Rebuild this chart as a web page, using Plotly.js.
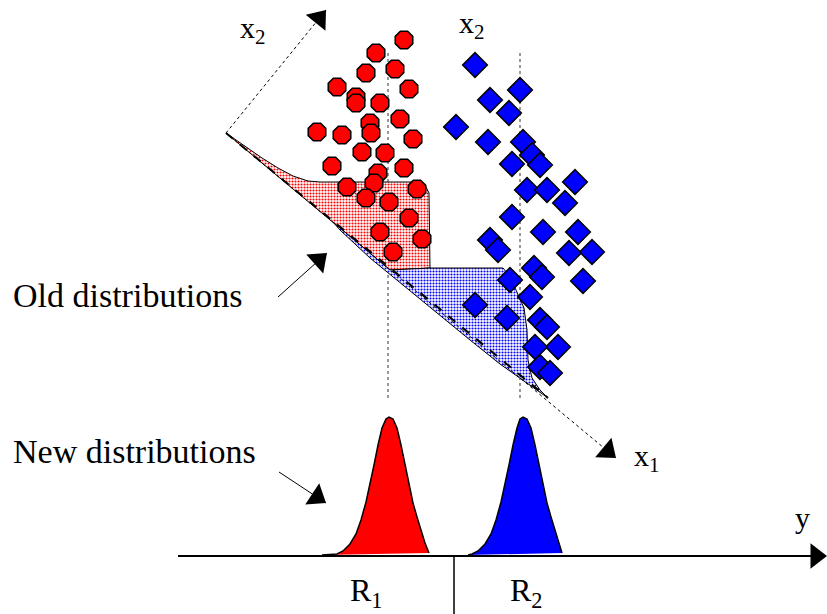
<!DOCTYPE html>
<html><head><meta charset="utf-8">
<script src="https://cdn.plot.ly/plotly-3.0.1.min.js"></script>
<style>html,body{margin:0;padding:0;background:#fff;}#chart{width:827px;height:614px;}</style>
</head><body><div id="chart"></div>
<script>
// Class 1 samples (red) in the x1/x2 plane, diagram units (y grows downward)
const redX = [404,376,395,366,337,409,356,356,380,400,370,371,317,342,413,362,385,332,404,378,347,374,417,366,389,409,380,422,393];
const redY = [40,53,69,73,87,89,97,103,103,119,123,133,132,135,139,152,153,166,168,173,187,183,189,198,202,218,232,239,252];
// Class 2 samples (blue)
const blueX = [475,520,490,509,456,488,523,532,540,512,575,527,547,565,512,543,578,490,498,569,592,534,542,583,510,530,475,507,540,547,558,535,540,550];
const blueY = [65,90,100,113,127,142,142,155,165,164,182,190,190,203,217,232,232,240,250,253,252,268,277,281,280,297,305,318,320,327,347,347,367,373];

// Old distributions, drawn against the x1 axis
const oldRedX = [226,245,262,278,293,308,320,418,425,429,430,390,226];
const oldRedY = [133,146,158,168,176,181,182,182,185,193,268,270,133];
const oldBlueX = [333,390,430,503,508,516,524,527,528,532,540,548,500,470,420,370,340,333];
const oldBlueY = [222,270,268,268,274,290,308,330,360,378,390,398,364,340,299,258,230,222];

// New distributions along the projected axis y
const newRedX = [322,337,343,350,356,361,366,370,374,378,382,386,389,393,397,401,405,409,413,417,421,425,429];
const newRedY = [555,554,551,544,534,520,502,485,465,445,428,419,417,419,428,445,465,485,503,517,530,543,553];
const newBlueX = [468,472,478,485,491,496,501,505,509,513,517,520,523,527,531,535,539,543,547,551,555,559,562];
const newBlueY = [555,554,551,544,534,520,502,485,465,445,428,419,417,419,428,445,465,485,503,517,530,543,553];

// Axes, pointers and guide lines: [fromX, fromY, toX, toY]
const x2Axis = [226,133,326,10];
const x1Axis = [226,133,616,458];
const baseLine = [226,133,548,398];
const yAxis = [178,556,827,556];
const oldPointer = [278,297,327,253];
const newPointer = [279,472,326,503];
const dividerX = 454;
const dividerSpan = [556,614];
const meanX = [388,520];
const meanSpan = [53,400];

const serif = 'Liberation Serif';
const headSize = 22;

function line(xs, ys, color, width, dash) {
  return {x: xs, y: ys, mode: 'lines', hoverinfo: 'skip',
          line: {color: color, width: width, dash: dash || 'solid'}};
}
function seg(s, color, width, dash) {
  return line([s[0], s[2]], [s[1], s[3]], color, width, dash);
}
// Filled triangle heads placed so their tip sits on the segment end
function heads(segs) {
  const xs = [], ys = [], ang = [];
  segs.forEach(s => {
    const dx = s[2] - s[0], dy = s[3] - s[1];
    const len = Math.hypot(dx, dy);
    const ux = dx / len, uy = dy / len;
    xs.push(s[2] - ux * headSize / 2);
    ys.push(s[3] - uy * headSize / 2);
    ang.push(Math.atan2(dx, -dy) * 180 / Math.PI);
  });
  return {x: xs, y: ys, mode: 'markers', hoverinfo: 'skip',
          marker: {symbol: 'triangle-up', size: headSize, angle: ang, color: '#000',
                   line: {width: 0}}};
}

const traces = [
  // mean guides
  line([meanX[0], meanX[0]], meanSpan, '#333', 1, 'dot'),
  line([meanX[1], meanX[1]], meanSpan, '#333', 1, 'dot'),
  // old distributions
  {x: oldRedX, y: oldRedY, mode: 'lines', fill: 'toself', hoverinfo: 'skip',
   fillcolor: 'rgba(255,0,0,0.35)',
   fillpattern: {shape: '.', fgcolor: '#ff0000', bgcolor: '#ffffff', size: 3, solidity: 0.4},
   line: {color: '#000', width: 1}},
  {x: oldBlueX, y: oldBlueY, mode: 'lines', fill: 'toself', hoverinfo: 'skip',
   fillcolor: 'rgba(0,0,255,0.35)',
   fillpattern: {shape: '.', fgcolor: '#0000ff', bgcolor: '#ffffff', size: 3, solidity: 0.4},
   line: {color: '#000', width: 1}},
  // x1 and x2 axes, pointers
  seg(x1Axis, '#000', 1, 'dot'),
  seg(x2Axis, '#000', 1, 'dot'),
  seg(baseLine, '#000', 2, 'dash'),
  seg(oldPointer, '#000', 1),
  seg(newPointer, '#000', 1),
  // samples
  {x: redX, y: redY, mode: 'markers', hoverinfo: 'skip',
   marker: {symbol: 'octagon', size: 19, color: '#ff0000', line: {color: '#000', width: 1.5}}},
  {x: blueX, y: blueY, mode: 'markers', hoverinfo: 'skip',
   marker: {symbol: 'diamond', size: 19, color: '#0000ff', line: {color: '#000', width: 1.5}}},
  // new distributions
  {x: newRedX, y: newRedY, mode: 'lines', fill: 'toself', fillcolor: '#ff0000', hoverinfo: 'skip',
   line: {color: '#000', width: 1.5}},
  {x: newBlueX, y: newBlueY, mode: 'lines', fill: 'toself', fillcolor: '#0000ff', hoverinfo: 'skip',
   line: {color: '#000', width: 1.5}},
  // y axis and region divider
  seg([yAxis[0], yAxis[1], yAxis[2] - 12, yAxis[3]], '#000', 2),
  line([dividerX, dividerX], dividerSpan, '#000', 1.5),
  heads([x2Axis, x1Axis, yAxis, oldPointer, newPointer])
];

function label(text, x, y, size) {
  return {x: x, y: y, xref: 'x', yref: 'y', text: text, showarrow: false,
          xanchor: 'left', yanchor: 'middle',
          font: {family: serif, size: size, color: '#000'}};
}

const annotations = [
  label('x<sub>2</sub>', 238, 30, 30),
  label('x<sub>2</sub>', 457, 25, 30),
  label('x<sub>1</sub>', 632, 458, 30),
  label('y', 793, 517, 30),
  label('Old distributions', 11, 295, 34),
  label('New distributions', 11, 451, 34),
  label('R<sub>1</sub>', 348, 592, 32),
  label('R<sub>2</sub>', 508, 592, 32)
];

const layout = {
  width: 827, height: 614,
  margin: {l: 0, r: 0, t: 0, b: 0},
  paper_bgcolor: '#fff', plot_bgcolor: '#fff',
  showlegend: false,
  xaxis: {range: [0, 827], visible: false, fixedrange: true},
  yaxis: {range: [614, 0], visible: false, fixedrange: true},
  annotations: annotations
};

Plotly.newPlot('chart', traces, layout, {staticPlot: true});
</script>
</body></html>
